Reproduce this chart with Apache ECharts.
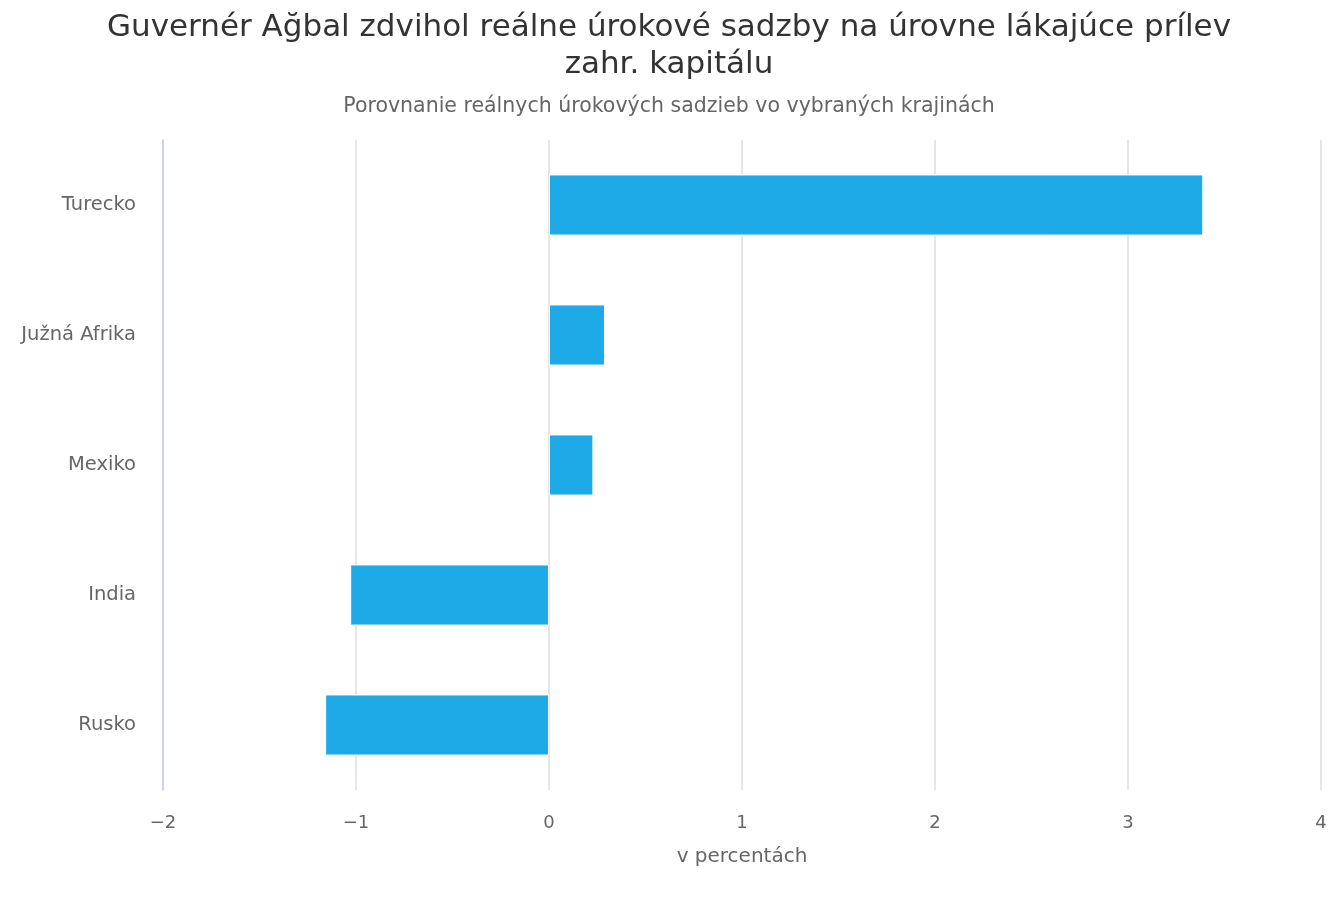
<!DOCTYPE html>
<html>
<head>
<meta charset="utf-8">
<script src="https://cdn.jsdelivr.net/npm/echarts@6/dist/echarts.min.js"></script>
<style>
  html, body { margin: 0; padding: 0; background: #fff; }
  #chart { width: 1338px; height: 900px; }
</style>
</head>
<body>
<div id="chart"></div>
<script>
// krajiny zhora nadol
var krajiny = ['Turecko', 'Južná Afrika', 'Mexiko', 'India', 'Rusko'];
// reálne úrokové sadzby v percentách
var sadzby = [3.39, 0.29, 0.23, -1.03, -1.16];
// os x
var osMin = -2;
var osMax = 4;
var osKrok = 1;

var myChart = echarts.init(document.getElementById('chart'));
var pismo = '"DejaVu Sans", sans-serif';

var option = {
    title: {
        text: 'Guvernér Ağbal zdvihol reálne úrokové sadzby na úrovne lákajúce prílev\nzahr. kapitálu',
        subtext: 'Porovnanie reálnych úrokových sadzieb vo vybraných krajinách',
        left: 'center',
        top: 4,
        itemGap: 13,
        textStyle: {
            fontFamily: pismo,
            fontSize: 31,
            fontWeight: 'normal',
            color: '#333',
            lineHeight: 37
        },
        subtextStyle: {
            fontFamily: pismo,
            fontSize: 20.5,
            color: '#666'
        }
    },
    grid: {
        left: 163,
        right: 17,
        top: 140,
        bottom: 110
    },
    xAxis: {
        type: 'value',
        min: osMin,
        max: osMax,
        interval: osKrok,
        name: 'v percentách',
        nameLocation: 'middle',
        nameGap: 57,
        nameTextStyle: {
            fontFamily: pismo,
            fontSize: 20,
            color: '#666'
        },
        axisLine: { show: false },
        axisTick: { show: false },
        axisLabel: {
            margin: 24,
            fontFamily: pismo,
            fontSize: 18,
            color: '#666',
            formatter: function (v) {
                return String(v).replace('-', '\u2212');
            }
        },
        splitLine: {
            lineStyle: { color: '#e6e6e6', width: 2 }
        }
    },
    yAxis: {
        type: 'category',
        data: krajiny,
        inverse: true,
        axisLine: {
            onZero: false,
            lineStyle: { color: '#ccd6eb', width: 2 }
        },
        axisTick: { show: false },
        axisLabel: {
            margin: 27,
            fontFamily: pismo,
            fontSize: 19.5,
            color: '#666'
        },
        splitLine: { show: false }
    },
    series: [{
        type: 'bar',
        data: sadzby,
        barWidth: '47%',
        itemStyle: {
            color: '#1eaae7',
            borderColor: '#fff',
            borderWidth: 1
        }
    }]
};

myChart.setOption(option);
</script>
</body>
</html>
